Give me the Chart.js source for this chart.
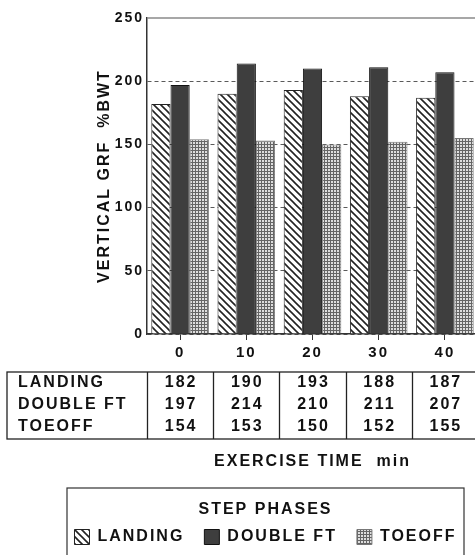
<!DOCTYPE html>
<html>
<head>
<meta charset="utf-8">
<script src="https://cdn.jsdelivr.net/npm/chart.js@4.4.1/dist/chart.umd.min.js"></script>
<style>
  html, body { margin: 0; padding: 0; background: #fff; overflow: hidden; }
  #wrap { width: 500px; height: 575px; }
</style>
</head>
<body>
<div id="wrap"><canvas id="chart" width="500" height="575"></canvas></div>
<script>
// values
var categories = ['0', '10', '20', '30', '40'];
var seriesNames = ['LANDING', 'DOUBLE FT', 'TOEOFF'];
var landing = [182, 190, 193, 188, 187];
var doubleFt = [197, 214, 210, 211, 207];
var toeoff = [154, 153, 150, 152, 155];
var yTicks = [0, 50, 100, 150, 200, 250];

var FONT = '"Liberation Sans", Arial, sans-serif';
var INK = '#111';

// diagonal hatch for LANDING
function hatchPattern() {
    var c = document.createElement('canvas');
    c.width = c.height = 7;
    var g = c.getContext('2d');
    g.fillStyle = '#fff';
    g.fillRect(0, 0, 7, 7);
    g.strokeStyle = '#222';
    g.lineWidth = 1.6;
    g.beginPath();
    g.moveTo(-1, -1); g.lineTo(8, 8);
    g.moveTo(-1, 6); g.lineTo(1, 8);
    g.moveTo(6, -1); g.lineTo(8, 1);
    g.stroke();
    return g.createPattern(c, 'repeat');
}

// fine grid for TOEOFF
function gridPattern() {
    var c = document.createElement('canvas');
    c.width = c.height = 3;
    var g = c.getContext('2d');
    g.fillStyle = '#dedede';
    g.fillRect(0, 0, 3, 3);
    g.fillStyle = '#656565';
    g.fillRect(0, 0, 3, 1);
    g.fillRect(0, 0, 1, 3);
    return g.createPattern(c, 'repeat');
}

// wide tracking like the original lettering
var spacing = {
    id: 'spacing',
    beforeLayout: function(chart) { chart.ctx.letterSpacing = '2px'; },
    beforeDraw: function(chart) { chart.ctx.letterSpacing = '2px'; }
};

// top frame line, data table under the axis, box round the legend
var extras = {
    id: 'extras',
    afterDraw: function(chart) {
        var ctx = chart.ctx;
        var area = chart.chartArea;
        var x = chart.scales.x;
        ctx.save();
        ctx.strokeStyle = '#8a8a8a';
        ctx.lineWidth = 1.5;
        ctx.beginPath();
        ctx.moveTo(area.left, area.top);
        ctx.lineTo(area.right, area.top);
        ctx.stroke();

        // table
        var top = 372, bottom = 439, left = 7;
        var catW = (area.right - area.left) / categories.length;
        ctx.strokeStyle = '#222';
        ctx.lineWidth = 1.3;
        ctx.strokeRect(left, top, area.right - left, bottom - top);
        ctx.beginPath();
        for (var i = 0; i < categories.length; i++) {
            var bx = Math.round(x.getPixelForValue(i) - catW / 2) + 0.5;
            ctx.moveTo(bx, top);
            ctx.lineTo(bx, bottom);
        }
        ctx.stroke();

        var rows = [landing, doubleFt, toeoff];
        var rowY = [383, 405, 427];
        ctx.fillStyle = INK;
        ctx.font = 'bold 16px ' + FONT;
        ctx.textBaseline = 'middle';
        for (var r = 0; r < rows.length; r++) {
            ctx.textAlign = 'left';
            ctx.fillText(seriesNames[r], 18, rowY[r]);
            ctx.textAlign = 'center';
            for (var j = 0; j < rows[r].length; j++) {
                ctx.fillText(String(rows[r][j]), x.getPixelForValue(j) + 1, rowY[r]);
            }
        }

        // legend frame
        ctx.strokeStyle = '#333';
        ctx.lineWidth = 1.2;
        ctx.strokeRect(67, 488, 397, 120);
        ctx.restore();
    }
};

var chart = new Chart(document.getElementById('chart').getContext('2d'), {
    type: 'bar',
    data: {
        labels: categories,
        datasets: [
            { label: seriesNames[0], data: landing, backgroundColor: hatchPattern(), borderColor: '#222', borderWidth: 1 },
            { label: seriesNames[1], data: doubleFt, backgroundColor: '#3e3e3e', borderColor: '#111', borderWidth: 1 },
            { label: seriesNames[2], data: toeoff, backgroundColor: gridPattern(), borderColor: '#777', borderWidth: 1 }
        ]
    },
    options: {
        responsive: false,
        animation: false,
        events: [],
        layout: { padding: { left: 53, right: 22, top: 18, bottom: 20 } },
        datasets: { bar: { categoryPercentage: 0.87, barPercentage: 1 } },
        scales: {
            x: {
                grid: { drawOnChartArea: false, offset: false, drawTicks: true, tickLength: 6, tickColor: '#333' },
                border: { color: '#333', width: 1.5 },
                ticks: { color: INK, font: { family: FONT, size: 15, weight: 'bold' }, padding: 4 },
                title: {
                    display: true,
                    text: 'EXERCISE TIME  min',
                    color: INK,
                    font: { family: FONT, size: 16, weight: 'bold' },
                    padding: { top: 0, bottom: 26.4 }
                },
                afterFit: function(scale) { scale.height = 164; }
            },
            y: {
                min: 0,
                max: 250,
                afterBuildTicks: function(scale) {
                    scale.ticks = yTicks.map(function(v) { return { value: v }; });
                },
                grid: {
                    drawTicks: false,
                    color: function(c) { return c.tick && c.tick.value === 250 ? 'rgba(0,0,0,0)' : '#5a5a5a'; }
                },
                border: { color: '#333', width: 1.5, dash: [4, 3] },
                ticks: { color: INK, font: { family: FONT, size: 14, weight: 'bold' }, padding: 3 },
                title: {
                    display: true,
                    text: 'VERTICAL GRF  %BWT',
                    color: INK,
                    font: { family: FONT, size: 16, weight: 'bold' },
                    padding: { top: 42.4, bottom: 0 }
                },
                afterFit: function(scale) { scale.width = 94; }
            }
        },
        plugins: {
            tooltip: { enabled: false },
            legend: {
                position: 'bottom',
                title: {
                    display: true,
                    text: 'STEP PHASES',
                    color: INK,
                    font: { family: FONT, size: 16, weight: 'bold' },
                    padding: { top: 4, bottom: -12.2 }
                },
                labels: {
                    color: INK,
                    font: { family: FONT, size: 16, weight: 'bold' },
                    boxWidth: 15,
                    boxHeight: 15,
                    padding: 20
                }
            }
        }
    },
    plugins: [spacing, extras]
});
</script>
</body>
</html>
